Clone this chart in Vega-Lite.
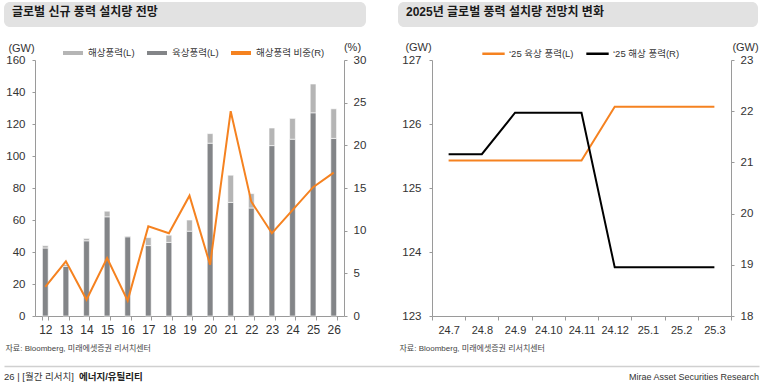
{
  "$schema": "https://vega.github.io/schema/vega-lite/v6.json",
  "padding": {"left": 4, "top": 2, "right": 2, "bottom": 0},
  "autosize": {"type": "pad"},
  "config": {
    "font": "Liberation Sans, Noto Sans CJK KR",
    "view": {"stroke": null},
    "axis": {"labelColor": "#333333", "domainColor": "#9a9a9a", "tickColor": "#9a9a9a", "grid": false, "labelFontSize": 11.5, "tickSize": 3, "titleFontWeight": "normal", "titleColor": "#333333"}
  },
  "datasets": {
    "bars": [
      {"year": "12", "type": "육상풍력(L)", "gw": 42.5}, {"year": "12", "type": "해상풍력(L)", "gw": 1.5},
      {"year": "13", "type": "육상풍력(L)", "gw": 31}, {"year": "13", "type": "해상풍력(L)", "gw": 1.2},
      {"year": "14", "type": "육상풍력(L)", "gw": 47}, {"year": "14", "type": "해상풍력(L)", "gw": 1.5},
      {"year": "15", "type": "육상풍력(L)", "gw": 62}, {"year": "15", "type": "해상풍력(L)", "gw": 3.5},
      {"year": "16", "type": "육상풍력(L)", "gw": 49.5}, {"year": "16", "type": "해상풍력(L)", "gw": 0.5},
      {"year": "17", "type": "육상풍력(L)", "gw": 44}, {"year": "17", "type": "해상풍력(L)", "gw": 5},
      {"year": "18", "type": "육상풍력(L)", "gw": 46}, {"year": "18", "type": "해상풍력(L)", "gw": 4.5},
      {"year": "19", "type": "육상풍력(L)", "gw": 53}, {"year": "19", "type": "해상풍력(L)", "gw": 7},
      {"year": "20", "type": "육상풍력(L)", "gw": 108}, {"year": "20", "type": "해상풍력(L)", "gw": 6},
      {"year": "21", "type": "육상풍력(L)", "gw": 71}, {"year": "21", "type": "해상풍력(L)", "gw": 17},
      {"year": "22", "type": "육상풍력(L)", "gw": 67.5}, {"year": "22", "type": "해상풍력(L)", "gw": 9},
      {"year": "23", "type": "육상풍력(L)", "gw": 106.5}, {"year": "23", "type": "해상풍력(L)", "gw": 11},
      {"year": "24", "type": "육상풍력(L)", "gw": 110.5}, {"year": "24", "type": "해상풍력(L)", "gw": 13},
      {"year": "25", "type": "육상풍력(L)", "gw": 127}, {"year": "25", "type": "해상풍력(L)", "gw": 18},
      {"year": "26", "type": "육상풍력(L)", "gw": 111}, {"year": "26", "type": "해상풍력(L)", "gw": 18.5}
    ],
    "share": [
      {"year": "12", "share": 3.4}, {"year": "13", "share": 6.4}, {"year": "14", "share": 1.9},
      {"year": "15", "share": 6.8}, {"year": "16", "share": 1.8}, {"year": "17", "share": 10.5},
      {"year": "18", "share": 9.7}, {"year": "19", "share": 14.1}, {"year": "20", "share": 6.0},
      {"year": "21", "share": 24.0}, {"year": "22", "share": 13.4}, {"year": "23", "share": 9.7},
      {"year": "24", "share": 12.4}, {"year": "25", "share": 15.1}, {"year": "26", "share": 16.8}
    ],
    "on25": [
      {"m": "24.7", "v": 125.43}, {"m": "24.8", "v": 125.43}, {"m": "24.9", "v": 125.43},
      {"m": "24.10", "v": 125.43}, {"m": "24.11", "v": 125.43}, {"m": "24.12", "v": 126.27},
      {"m": "25.1", "v": 126.27}, {"m": "25.2", "v": 126.27}, {"m": "25.3", "v": 126.27}
    ],
    "off25": [
      {"m": "24.7", "v": 21.16}, {"m": "24.8", "v": 21.16}, {"m": "24.9", "v": 21.97},
      {"m": "24.10", "v": 21.97}, {"m": "24.11", "v": 21.97}, {"m": "24.12", "v": 18.95},
      {"m": "25.1", "v": 18.95}, {"m": "25.2", "v": 18.95}, {"m": "25.3", "v": 18.95}
    ]
  },
  "spacing": 14,
  "vconcat": [
    {
      "spacing": 32,
      "hconcat": [
        {
          "width": 362, "height": 25,
          "data": {"values": [{}]},
          "mark": {"type": "rect", "fill": "#e2e2e2", "cornerRadius": 6},
          "encoding": {},
          "title": {"text": "글로벌 신규 풍력 설치량 전망", "anchor": "start", "orient": "top", "offset": -26, "dx": 8, "fontSize": 12, "fontWeight": "bold", "color": "#1a1a1a", "baseline": "alphabetic"}
        },
        {
          "width": 360, "height": 25,
          "data": {"values": [{}]},
          "mark": {"type": "rect", "fill": "#e2e2e2", "cornerRadius": 6},
          "encoding": {},
          "title": {"text": "2025년 글로벌 풍력 설치량 전망치 변화", "anchor": "start", "orient": "top", "offset": -26, "dx": 8, "fontSize": 12, "fontWeight": "bold", "color": "#1a1a1a", "baseline": "alphabetic"}
        }
      ]
    },
    {
      "spacing": 0,
      "hconcat": [
        {
          "width": 1, "height": 1,
          "data": {"values": []},
          "mark": "point",
          "encoding": {}
        },
        {
          "spacing": 33,
          "resolve": {"scale": {"color": "independent"}, "legend": {"color": "independent"}},
          "hconcat": [
            {
              "width": 309, "height": 256,
              "layer": [
                {
                  "data": {"name": "bars"},
                  "mark": {"type": "bar", "stroke": "white", "strokeWidth": 0.6},
                  "encoding": {
                    "x": {"field": "year", "type": "ordinal", "sort": null,
                      "scale": {"type": "band", "paddingInner": 0.72, "paddingOuter": 0.36},
                      "axis": {"labelAngle": 0, "tickBand": "extent", "tickSize": 4, "labelPadding": 4, "labelFontSize": 12,
                        "title": "자료: Bloomberg, 미래에셋증권 리서치센터", "titleAnchor": "start", "titleAlign": "left", "titleX": -30, "titleY": 34, "titleBaseline": "alphabetic", "titleFontSize": 8, "titleColor": "#444444"}},
                    "y": {"field": "gw", "type": "quantitative", "stack": "zero",
                      "scale": {"domain": [0, 160], "nice": false},
                      "axis": {"values": [0, 20, 40, 60, 80, 100, 120, 140, 160], "labelPadding": 7,
                        "title": "(GW)", "titleAngle": 0, "titleAlign": "center", "titleX": -14, "titleY": -9, "titleBaseline": "alphabetic", "titleFontSize": 11}},
                    "color": {"field": "type", "type": "nominal",
                      "scale": {"domain": ["해상풍력(L)", "육상풍력(L)", "해상풍력 비중(R)"], "range": ["#b5b5b5", "#838588", "#f58220"]},
                      "legend": {"orient": "none", "legendX": 26, "legendY": -19, "direction": "horizontal", "title": null,
                        "symbolType": "stroke", "symbolSize": 400, "symbolStrokeWidth": 4, "labelFontSize": 9.5, "labelColor": "#333333",
                        "columnPadding": 4, "labelOffset": 3,
                        "encode": {"symbols": {"update": {
                          "stroke": {"signal": "datum.value === '해상풍력(L)' ? '#b5b5b5' : datum.value === '육상풍력(L)' ? '#838588' : '#f58220'"},
                          "strokeWidth": {"signal": "datum.value === '해상풍력 비중(R)' ? 2.2 : 4.5"}}}}}},
                    "order": {"field": "type", "sort": "ascending"}
                  }
                },
                {
                  "data": {"name": "share"},
                  "mark": {"type": "line", "strokeWidth": 2},
                  "encoding": {
                    "x": {"field": "year", "type": "ordinal", "sort": null, "bandPosition": 0.5},
                    "y": {"field": "share", "type": "quantitative",
                      "scale": {"domain": [0, 30], "nice": false},
                      "axis": {"orient": "right", "values": [0, 5, 10, 15, 20, 25, 30], "labelPadding": 6,
                        "title": "(%)", "titleAngle": 0, "titleAlign": "center", "titleX": 8, "titleY": -10, "titleBaseline": "alphabetic", "titleFontSize": 11}},
                    "color": {"datum": "해상풍력 비중(R)", "type": "nominal"}
                  }
                }
              ],
              "resolve": {"scale": {"y": "independent"}}
            },
            {
              "width": 299, "height": 256,
              "layer": [
                {
                  "data": {"name": "on25"},
                  "mark": {"type": "line", "strokeWidth": 2},
                  "encoding": {
                    "x": {"field": "m", "type": "ordinal", "sort": null, "bandPosition": 0.5,
                      "scale": {"type": "band", "paddingInner": 0, "paddingOuter": 0},
                      "axis": {"labelAngle": 0, "tickBand": "extent", "tickSize": 4, "labelPadding": 4, "labelFontSize": 11,
                        "title": "자료: Bloomberg, 미래에셋증권 리서치센터", "titleAnchor": "start", "titleAlign": "left", "titleX": -33, "titleY": 34, "titleBaseline": "alphabetic", "titleFontSize": 8, "titleColor": "#444444"}},
                    "y": {"field": "v", "type": "quantitative",
                      "scale": {"domain": [123, 127], "nice": false, "zero": false},
                      "axis": {"values": [123, 124, 125, 126, 127], "labelPadding": 8,
                        "title": "(GW)", "titleAngle": 0, "titleAlign": "center", "titleX": -14, "titleY": -10, "titleBaseline": "alphabetic", "titleFontSize": 11}},
                    "color": {"datum": "‘25 육상 풍력(L)", "type": "nominal",
                      "scale": {"domain": ["‘25 육상 풍력(L)", "‘25 해상 풍력(R)"], "range": ["#f58220", "#000000"]},
                      "legend": {"orient": "none", "legendX": 49, "legendY": -19, "direction": "horizontal", "title": null,
                        "symbolType": "stroke", "symbolSize": 500, "symbolStrokeWidth": 2.5, "labelFontSize": 9.5, "labelColor": "#333333",
                        "columnPadding": 7, "labelOffset": 3}}
                  }
                },
                {
                  "data": {"name": "off25"},
                  "mark": {"type": "line", "strokeWidth": 2},
                  "encoding": {
                    "x": {"field": "m", "type": "ordinal", "sort": null, "bandPosition": 0.5},
                    "y": {"field": "v", "type": "quantitative",
                      "scale": {"domain": [18, 23], "nice": false, "zero": false},
                      "axis": {"orient": "right", "values": [18, 19, 20, 21, 22, 23], "labelPadding": 6,
                        "title": "(GW)", "titleAngle": 0, "titleAlign": "center", "titleX": 14, "titleY": -10, "titleBaseline": "alphabetic", "titleFontSize": 11}},
                    "color": {"datum": "‘25 해상 풍력(R)", "type": "nominal"}
                  }
                }
              ],
              "resolve": {"scale": {"y": "independent"}}
            }
          ]
        }
      ]
    },
    {
      "width": 755, "height": 22,
      "layer": [
        {
          "data": {"values": [{"t": "26 | [월간 리서치]"}]},
          "mark": {"type": "text", "align": "left", "baseline": "middle", "fontSize": 9.5, "color": "#333333"},
          "encoding": {
            "text": {"field": "t"},
            "x": {"datum": 0, "type": "quantitative", "scale": {"domain": [0, 1], "nice": false},
              "axis": {"orient": "top", "domainColor": "#d0d0d0", "domainWidth": 1.5, "ticks": false, "labels": false, "title": null}}
          }
        },
        {
          "data": {"values": [{"t": "에너지/유틸리티"}]},
          "mark": {"type": "text", "align": "left", "baseline": "middle", "dx": 75, "fontSize": 9.5, "fontWeight": "bold", "color": "#222222"},
          "encoding": {
            "text": {"field": "t"},
            "x": {"datum": 0, "type": "quantitative"}
          }
        },
        {
          "data": {"values": [{"t": "Mirae Asset Securities Research"}]},
          "mark": {"type": "text", "align": "right", "baseline": "middle", "fontSize": 9, "font": "Liberation Sans Narrow, Liberation Sans", "color": "#333333"},
          "encoding": {
            "text": {"field": "t"},
            "x": {"datum": 1, "type": "quantitative"}
          }
        }
      ]
    }
  ]
}
